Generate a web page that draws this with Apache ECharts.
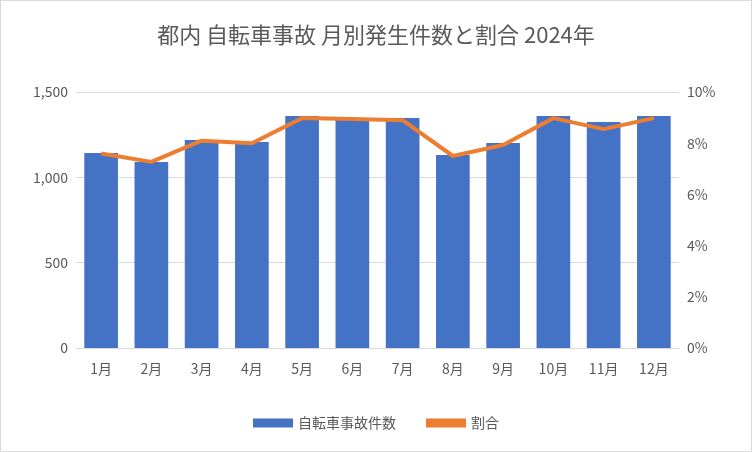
<!DOCTYPE html><html><head><meta charset="utf-8"><script src="https://cdn.jsdelivr.net/npm/echarts@6/dist/echarts.min.js"></script>
<style>html,body{margin:0;padding:0}#c{width:750px;height:450px;border:1px solid #d9d9d9}</style></head><body><div id="c"></div><script>
const categories=['1月','2月','3月','4月','5月','6月','7月','8月','9月','10月','11月','12月'];
const accidents=[1142,1090,1219,1207,1359,1347,1347,1131,1201,1359,1324,1359];
const ratio=[7.6,7.27,8.1,8.0,8.98,8.95,8.9,7.5,7.93,8.98,8.55,8.98];
const leftTicks=[0,500,1000,1500];
const font='"Noto Sans CJK JP","Noto Sans",sans-serif';
const c=echarts.init(document.getElementById('c'));
c.setOption({
 textStyle:{fontFamily:font},
 title:{text:'都内 自転車事故 月別発生件数と割合 2024年',left:'center',top:18,textStyle:{fontSize:22,fontWeight:'normal',color:'#595959',fontFamily:font}},
 legend:{bottom:16,itemGap:30,textStyle:{fontSize:14,color:'#595959'},data:[{name:'自転車事故件数',icon:'rect'},{name:'割合',icon:'rect'}],itemWidth:40,itemHeight:9},
 grid:{left:75,right:72,top:91,bottom:103},
 xAxis:{type:'category',data:categories,axisTick:{show:false},axisLine:{lineStyle:{color:'#d9d9d9'}},axisLabel:{color:'#595959',fontSize:14,margin:14}},
 yAxis:[{type:'value',min:0,max:1500,interval:500,axisLabel:{color:'#595959',fontSize:14,formatter:v=>v.toLocaleString('en-US')},splitLine:{lineStyle:{color:'#d9d9d9'}}},
  {type:'value',min:0,max:10,interval:2,axisLabel:{color:'#595959',fontSize:14,formatter:'{value}%'},splitLine:{show:false}}],
 series:[{name:'自転車事故件数',type:'bar',data:accidents,barWidth:'67%',itemStyle:{color:'#4472c4'}},
  {name:'割合',type:'line',yAxisIndex:1,data:ratio,symbol:'none',lineStyle:{width:4,color:'#ed7d31'},itemStyle:{color:'#ed7d31'}}]
});
</script></body></html>
